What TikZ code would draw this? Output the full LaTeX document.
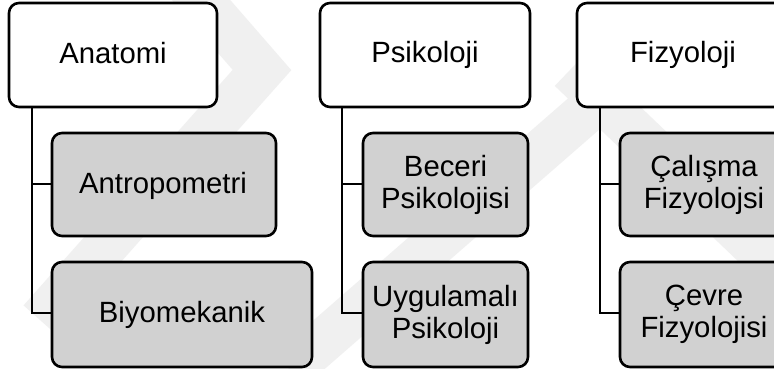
\documentclass[tikz,border=0pt]{standalone}
\usepackage{fontspec}
\setmainfont{Liberation Sans}
\begin{document}
\begin{tikzpicture}[x=1pt,y=-1pt,
  wm/.style={draw=black!6,line width=44pt,line join=miter},
  topbox/.style={draw=black,line width=2.6pt,rounded corners=10pt,fill=white},
  subbox/.style={draw=black,line width=2.6pt,rounded corners=10pt,fill=boxgray},
  lbl/.style={align=center,font=\fontsize{29.3}{32}\selectfont,inner sep=0pt},
  one/.style={text height=21pt,text depth=7pt},
  conn/.style={draw=black,line width=2.6pt}]
\definecolor{boxgray}{HTML}{D1D1D1}
\clip (0,0) rectangle (774,369);
\fill[white] (0,0) rectangle (774,369);
% faint watermark
\draw[wm] (175,-30) -- (262,70) -- (40,320);
\draw[wm] (680,30) -- (290,370);
\draw[wm] (570,70) -- (800,290);
% Anatomi column
\draw[topbox] (9,3) rectangle (217,107);
\node[lbl,one] (a0) at (113,57) {Anatomi};
\draw[subbox] (52,133) rectangle (276,236);
\node[lbl,one] (a1) at (163,186) {Antropometri};
\draw[subbox] (52,262) rectangle (312,367);
\node[lbl,one] (a2) at (182,315) {Biyomekanik};
\coordinate (ab) at (32,107);
\coordinate (a1l) at (52,184);
\coordinate (a2l) at (52,313);
\draw[conn] (ab) |- (a1l);
\draw[conn] (ab) |- (a2l);
% Psikoloji column
\draw[topbox] (320,3) rectangle (530,107);
\node[lbl,one] (p0) at (425,56) {Psikoloji};
\draw[subbox] (363,133) rectangle (528,236);
\node[lbl] (p1) at (445.5,184.5) {Beceri\\Psikolojisi};
\draw[subbox] (363,262) rectangle (528,367);
\node[lbl] (p2) at (445.5,314.5) {Uygulamalı\\Psikoloji};
\coordinate (pb) at (342,107);
\coordinate (p1l) at (363,184);
\coordinate (p2l) at (363,313);
\draw[conn] (pb) |- (p1l);
\draw[conn] (pb) |- (p2l);
% Fizyoloji column
\draw[topbox] (577,3) rectangle (789,107);
\node[lbl,one] (f0) at (683,56) {Fizyoloji};
\draw[subbox] (620,133) rectangle (788,236);
\node[lbl] (f1) at (704,184.5) {Çalışma\\Fizyolojsi};
\draw[subbox] (620,262) rectangle (788,367);
\node[lbl] (f2) at (704,314.5) {Çevre\\Fizyolojisi};
\coordinate (fb) at (600,107);
\coordinate (f1l) at (620,184);
\coordinate (f2l) at (620,313);
\draw[conn] (fb) |- (f1l);
\draw[conn] (fb) |- (f2l);
\end{tikzpicture}
\end{document}
